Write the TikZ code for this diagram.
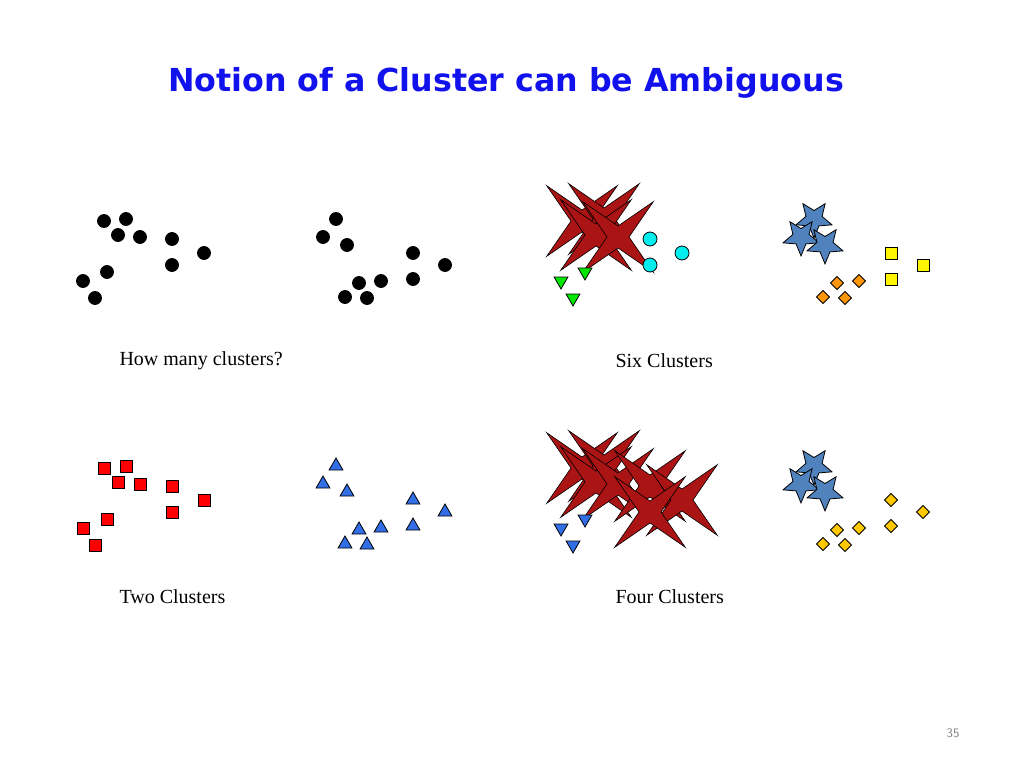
\documentclass[tikz,border=0pt]{standalone}
\usepackage{fontspec}
\setmainfont{Liberation Serif}
\newfontfamily\titlefont{DejaVu Sans}
\usetikzlibrary{shapes.geometric}
\definecolor{ttl}{RGB}{17,17,238}
\definecolor{sparkc}{RGB}{170,20,20}
\definecolor{cyanc}{RGB}{0,238,238}
\definecolor{greenc}{RGB}{0,230,0}
\definecolor{starb}{RGB}{80,130,190}
\definecolor{sqy}{RGB}{255,245,0}
\definecolor{orng}{RGB}{255,150,10}
\definecolor{gold}{RGB}{255,200,0}
\definecolor{blu}{RGB}{50,110,230}
\tikzset{
 mk/.style={draw=black,line width=0.8pt,inner sep=0pt,outer sep=0pt},
 dot/.style={mk,circle,fill=black,minimum size=13pt},
 cyc/.style={mk,circle,fill=cyanc,minimum size=14pt},
 rsq/.style={mk,rectangle,fill=red,minimum size=12pt},
 ysq/.style={mk,rectangle,fill=sqy,minimum size=12pt},
 tup/.style={mk,regular polygon,regular polygon sides=3,fill=blu,minimum size=16pt},
 tdn/.style={mk,regular polygon,regular polygon sides=3,shape border rotate=180,minimum size=16pt},
 spark/.style={mk,star,star points=4,star point ratio=0.22,fill=sparkc,minimum size=22pt,line width=0.6pt},
 bstar/.style={mk,star,star points=5,star point ratio=0.45,fill=starb,minimum size=17pt},
 dia/.style={mk,diamond,minimum size=13pt},
 lbl/.style={font=\fontsize{20}{22}\selectfont,anchor=west}
}
\begin{document}
\begin{tikzpicture}[x=1pt,y=-1pt]
\useasboundingbox (0,0) rectangle (1024,768);
\node[font=\titlefont\bfseries\fontsize{33}{36}\selectfont,text=ttl,scale=0.96] (title) at (506,83) {Notion of a Cluster can be Ambiguous};
\def\A{(104,221),(126,219),(118,235),(140,237),(172,239),(204,253),(172,265),(107,272),(83,281),(95,298)}
\def\B{(336,219),(323,237),(347,245),(413,253),(445,265),(413,279),(381,281),(359,283),(345,297),(367,298)}
% top-left: unclustered
\foreach \p [count=\i] in \A { \node[dot] (a\i) at \p {}; }
\foreach \p [count=\i] in \B { \node[dot] (b\i) at \p {}; }
% six clusters
\begin{scope}[xshift=478pt]
\foreach \p [count=\i] in \A {
  \ifnum\i<5 \node[spark] (sa\i) at \p {};
  \else\ifnum\i<8 \node[cyc] (sa\i) at \p {};
  \else \node[tdn,fill=greenc] (sa\i) at \p {}; \fi\fi }
\foreach \p [count=\i] in \B {
  \ifnum\i<4 \node[bstar] (sb\i) at \p {};
  \else\ifnum\i<7 \node[ysq] (sb\i) at \p {};
  \else \node[dia,fill=orng] (sb\i) at \p {}; \fi\fi }
\end{scope}
% two clusters
\begin{scope}[yshift=-247pt]
\foreach \p [count=\i] in \A { \node[rsq] (ta\i) at \p {}; }
\foreach \p [count=\i] in \B { \node[tup] (tb\i) at \p {}; }
\end{scope}
% four clusters
\begin{scope}[xshift=478pt,yshift=-247pt]
\foreach \p [count=\i] in \A {
  \ifnum\i<8 \node[spark] (fa\i) at \p {};
  \else \node[tdn,fill=blu] (fa\i) at \p {}; \fi }
\foreach \p [count=\i] in \B {
  \ifnum\i<4 \node[bstar] (fb\i) at \p {};
  \else \node[dia,fill=gold] (fb\i) at \p {}; \fi }
\end{scope}
\node[lbl] (l1) at (116,361) {How many clusters?};
\node[lbl] (l2) at (612,361) {Six Clusters};
\node[lbl] (l3) at (116,597) {Two Clusters};
\node[lbl] (l4) at (612,597) {Four Clusters};
\node[font=\fontsize{13}{14}\selectfont\sffamily,text=gray] (pg) at (953,733) {35};
\end{tikzpicture}
\end{document}
